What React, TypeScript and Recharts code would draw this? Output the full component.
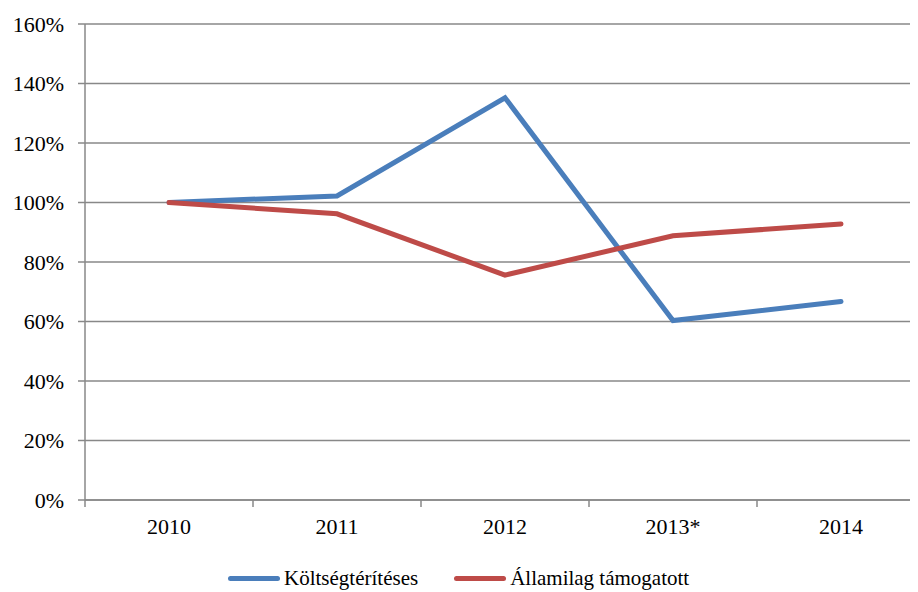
import React from "react";
import { LineChart, Line, XAxis, YAxis, CartesianGrid, Legend } from "recharts";

const years = ["2010", "2011", "2012", "2013*", "2014"];
const koltsegteriteses = [1.0, 1.022, 1.352, 0.603, 0.667];
const allamilag = [1.0, 0.962, 0.756, 0.888, 0.928];
const yTicks = [0, 0.2, 0.4, 0.6, 0.8, 1.0, 1.2, 1.4, 1.6];
const seriesNames = ["Költségtérítéses", "Államilag támogatott"];

const BLUE = "#4A7EBB";
const RED = "#BE4B48";
const GRID = "#888888";
const FONT = "'Liberation Serif', 'Times New Roman', serif";
const X_TICK_SIZE = 7;
const X_TICK_MARGIN = 11;

const data = years.map((y, i) => ({
  year: y,
  k: koltsegteriteses[i],
  a: allamilag[i],
}));

const XTick = (props: any) => {
  const { x, y, payload, index, visibleTicksCount } = props;
  const half = payload && payload.offset ? payload.offset : 0;
  const axisY = y - X_TICK_SIZE - X_TICK_MARGIN;
  const isLast = index === visibleTicksCount - 1;
  return (
    <g>
      <line x1={x - half} x2={x - half} y1={axisY} y2={axisY + X_TICK_SIZE} stroke={GRID} strokeWidth={1.5} />
      {isLast && (
        <line x1={x + half} x2={x + half} y1={axisY} y2={axisY + X_TICK_SIZE} stroke={GRID} strokeWidth={1.5} />
      )}
      <text x={x} y={y} dy="0.71em" textAnchor="middle" fill="#000" fontFamily={FONT} fontSize={22}>
        {payload.value}
      </text>
    </g>
  );
};

const LegendContent = () => {
  const items = [
    { name: seriesNames[0], color: BLUE },
    { name: seriesNames[1], color: RED },
  ];
  return (
    <div
      style={{
        display: "flex",
        alignItems: "center",
        height: 42,
        paddingLeft: 220,
        boxSizing: "border-box",
        paddingTop: 14,
        fontFamily: FONT,
        fontSize: 21,
        lineHeight: "24px",
        color: "#000",
      }}
    >
      {items.map((it, i) => (
        <div
          key={it.name}
          style={{ display: "flex", alignItems: "center", marginRight: i === 0 ? 36 : 0 }}
        >
          <div
            style={{
              width: 52,
              height: 5,
              borderRadius: 3,
              background: it.color,
              marginRight: 4,
            }}
          />
          <span>{it.name}</span>
        </div>
      ))}
    </div>
  );
};

export default function App() {
  return (
    <div style={{ width: 922, height: 584 }}>
      <LineChart
        width={922}
        height={584}
        data={data}
        margin={{ top: 16, right: 5, left: 0, bottom: 0 }}
      >
        <CartesianGrid vertical={false} stroke={GRID} strokeWidth={1.5} />
        <XAxis
          dataKey="year"
          scale="band"
          height={50}
          tickLine={false}
          axisLine={{ stroke: GRID, strokeWidth: 1.5 }}
          tickSize={X_TICK_SIZE}
          tickMargin={X_TICK_MARGIN}
          tick={<XTick />}
          interval={0}
        />
        <YAxis
          width={77}
          domain={[0, 1.6]}
          ticks={yTicks}
          interval={0}
          tickFormatter={(v: number) => `${Math.round(v * 100)}%`}
          axisLine={{ stroke: GRID, strokeWidth: 1.5 }}
          tickLine={{ stroke: GRID, strokeWidth: 1.5 }}
          tickSize={7}
          tickMargin={14}
          tick={{ fill: "#000", fontFamily: FONT, fontSize: 22 }}
        />
        <Legend verticalAlign="bottom" height={42} content={<LegendContent />} wrapperStyle={{ left: 0, width: 922 }} />
        <Line
          type="linear"
          dataKey="k"
          name={seriesNames[0]}
          stroke={BLUE}
          strokeWidth={5}
          strokeLinecap="round"
          dot={false}
          activeDot={false}
          isAnimationActive={false}
        />
        <Line
          type="linear"
          dataKey="a"
          name={seriesNames[1]}
          stroke={RED}
          strokeWidth={5}
          strokeLinecap="round"
          dot={false}
          activeDot={false}
          isAnimationActive={false}
        />
      </LineChart>
    </div>
  );
}
